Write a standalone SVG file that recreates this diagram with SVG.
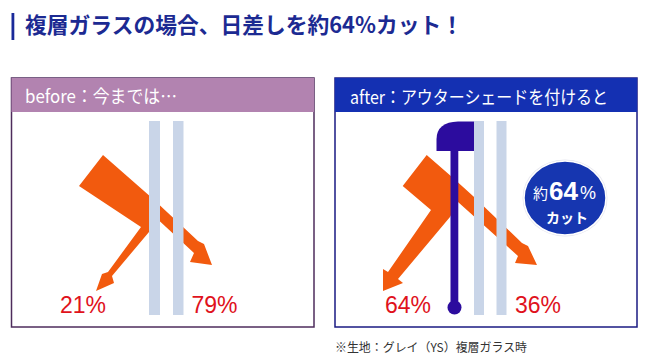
<svg xmlns="http://www.w3.org/2000/svg" width="652" height="363" viewBox="0 0 652 363">
<style>
.jp{font-family:"Noto Sans CJK JP","Liberation Sans",sans-serif}
.hdr{fill:#fff;font-size:18px}
.pct{fill:#e0121c;font-family:"Liberation Sans","Noto Sans CJK JP",sans-serif;font-size:23px}
.glass{fill:#c9d5e8}
.beam{fill:#f25a0e}
.shade{fill:#2c0c9e}
</style>
<rect width="652" height="363" fill="#fff"/>
<g id="title">
<rect x="11.5" y="13" width="2.8" height="27" fill="#1a2a9a"/>
<text class="jp" x="25" y="33" font-size="22" font-weight="bold" fill="#1c2a92" textLength="438" lengthAdjust="spacingAndGlyphs">複層ガラスの場合、日差しを約64%カット！</text>
</g>
<g id="panel-before">
<rect x="11.5" y="78" width="302.5" height="249" fill="#fff" stroke="#4e2c5c" stroke-width="1.5"/>
<rect x="11.5" y="78" width="302.5" height="34" fill="#b283b0"/>
<text class="jp hdr" x="25" y="103" textLength="152" lengthAdjust="spacingAndGlyphs">before：今までは…</text>
<polygon class="beam" points="103,155 152,198 198,241 204,244 212,265 190,262 194,253 152,214 149,232 112,276 114,283 96,291 102,274 108,272 141,227 79,186"/>
<rect class="glass" x="149" y="121" width="11" height="194"/>
<rect class="glass" x="173" y="121" width="10.5" height="194"/>
<text class="pct" x="60" y="313">21%</text>
<text class="pct" x="191.5" y="313">79%</text>
</g>
<g id="panel-after">
<rect x="335" y="78" width="302" height="249" fill="#fff" stroke="#1a1a82" stroke-width="1.5"/>
<rect x="335" y="78" width="302" height="34" fill="#1430b2"/>
<text class="jp hdr" x="350" y="104" textLength="258" lengthAdjust="spacingAndGlyphs">after：アウターシェードを付けると</text>
<polygon class="beam" points="426.7,155 452,177 473,196 522,243 528,246 537,265 515,263 518,256 458,202 450,217 398,279 403,283 383,291 383,269 388,272 431,210 402.7,186"/>
<rect class="glass" x="474" y="121" width="10" height="194"/>
<rect class="glass" x="496.5" y="121" width="10" height="194"/>
<g id="shade">
<path class="shade" d="M436.5,151 L436.5,139 Q437,122 458,121.5 L474,121.5 L474,151 Z"/>
<rect class="shade" x="450.5" y="150" width="7.8" height="157"/>
<circle class="shade" cx="454.5" cy="307.5" r="7"/>
</g>
<g id="badge">
<ellipse cx="565" cy="198" rx="42.5" ry="38.5" fill="#e6e6ee"/>
<ellipse cx="565" cy="198" rx="41" ry="37" fill="#1636b0" stroke="#fff" stroke-width="1.5"/>
<text x="533" y="199" class="jp" font-size="15" fill="#fff">約</text>
<text x="549" y="200" font-family="Liberation Sans,sans-serif" font-size="26" font-weight="bold" fill="#fff">64</text>
<text x="580" y="199" font-family="Liberation Sans,sans-serif" font-size="18" fill="#fff">%</text>
<text x="567" y="223" class="jp" font-size="14" font-weight="bold" fill="#fff" text-anchor="middle">カット</text>
</g>
<text class="pct" x="385" y="313">64%</text>
<text class="pct" x="515" y="313">36%</text>
</g>
<g id="footnote">
<text class="jp" x="335" y="352" font-size="12" fill="#333" textLength="192" lengthAdjust="spacingAndGlyphs">※生地：グレイ（YS）複層ガラス時</text>
</g>
</svg>
